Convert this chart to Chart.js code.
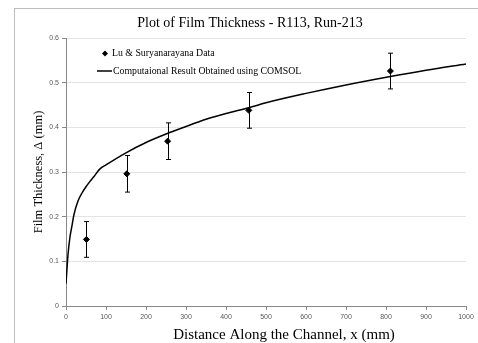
<!DOCTYPE html>
<html>
<head>
<meta charset="utf-8">
<script src="https://cdn.jsdelivr.net/npm/chart.js@4/dist/chart.umd.min.js"></script>
<style>
body { margin: 0; background: #fff; }
</style>
</head>
<body>
<canvas id="chart" width="478" height="343"></canvas>
<script>
// measured data (Lu & Suryanarayana) with error bars
var expX = [51, 152, 254, 457, 811];
var expY = [0.149, 0.296, 0.369, 0.438, 0.526];
var expErr = [0.04, 0.041, 0.041, 0.04, 0.04];

// COMSOL curve
var simX = [0, 5, 10, 15, 20, 30, 40, 50, 60, 70, 85, 100, 150, 200, 250, 300, 350, 400, 457, 500, 600, 700, 811, 900, 1000];
var simY = [0.05, 0.115, 0.155, 0.18, 0.205, 0.235, 0.253, 0.267, 0.279, 0.29, 0.307, 0.316, 0.343, 0.366, 0.385, 0.402, 0.418, 0.431, 0.444, 0.455, 0.476, 0.495, 0.514, 0.528, 0.542];

var xTicks = [0, 100, 200, 300, 400, 500, 600, 700, 800, 900, 1000];
var yTicks = [0, 0.1, 0.2, 0.3, 0.4, 0.5, 0.6];

var serif = '"Liberation Serif", "Times New Roman", serif';
var tickFont = { family: '"Liberation Sans", Arial, sans-serif', size: 7 };

var expPts = expX.map(function (x, i) { return { x: x, y: expY[i] }; });
var simPts = simX.map(function (x, i) { return { x: x, y: simY[i] }; });

var extras = {
  id: 'extras',
  afterDatasetsDraw: function (chart) {
    var ctx = chart.ctx;
    var xs = chart.scales.x, ys = chart.scales.y;
    ctx.save();
    // error bars
    ctx.strokeStyle = '#000';
    ctx.lineWidth = 1;
    for (var i = 0; i < expX.length; i++) {
      var px = Math.round(xs.getPixelForValue(expX[i])) + 0.5;
      var top = ys.getPixelForValue(expY[i] + expErr[i]);
      var bot = ys.getPixelForValue(expY[i] - expErr[i]);
      ctx.beginPath();
      ctx.moveTo(px, top); ctx.lineTo(px, bot);
      ctx.moveTo(px - 2.5, top); ctx.lineTo(px + 2.5, top);
      ctx.moveTo(px - 2.5, bot); ctx.lineTo(px + 2.5, bot);
      ctx.stroke();
    }
    // legend inside plot
    ctx.fillStyle = '#000';
    ctx.beginPath();
    ctx.moveTo(105, 50.5); ctx.lineTo(108, 53.5); ctx.lineTo(105, 56.5); ctx.lineTo(102, 53.5);
    ctx.closePath(); ctx.fill();
    ctx.beginPath();
    ctx.lineWidth = 1.5;
    ctx.moveTo(97, 71); ctx.lineTo(112, 71);
    ctx.stroke();
    ctx.font = '9.8px ' + serif;
    ctx.textBaseline = 'middle';
    ctx.textAlign = 'left';
    ctx.fillText(chart.data.datasets[0].label, 112, 53.5);
    ctx.fillText(chart.data.datasets[1].label, 113, 71);
    // titles
    ctx.textAlign = 'center';
    ctx.font = '14px ' + serif;
    ctx.fillText('Plot of Film Thickness - R113, Run-213', 250, 23);
    ctx.font = '15px ' + serif;
    ctx.fillText('Distance Along the Channel, x (mm)', 284, 335);
    ctx.font = '12.5px ' + serif;
    ctx.translate(38.5, 172);
    ctx.rotate(-Math.PI / 2);
    ctx.fillText('Film Thickness, \u0394 (mm)', 0, 0);
    ctx.restore();
    // outer frame
    ctx.save();
    ctx.strokeStyle = '#bdbdbd';
    ctx.lineWidth = 1;
    ctx.strokeRect(14.5, 8.5, 600, 600);
    ctx.restore();
  }
};

new Chart(document.getElementById('chart'), {
  type: 'scatter',
  data: {
    datasets: [
      {
        label: 'Lu & Suryanarayana Data',
        data: expPts,
        pointStyle: 'rectRot',
        pointRadius: 3,
        backgroundColor: '#000',
        borderColor: '#000',
        showLine: false
      },
      {
        label: 'Computaional Result Obtained using COMSOL',
        data: simPts,
        showLine: true,
        borderColor: '#000',
        borderWidth: 1.5,
        pointRadius: 0,
        cubicInterpolationMode: 'monotone',
        fill: false
      }
    ]
  },
  options: {
    responsive: false,
    animation: false,
    devicePixelRatio: 1,
    layout: { padding: { left: 0, top: 38, right: 12, bottom: 0 } },
    plugins: {
      legend: { display: false },
      title: { display: false },
      tooltip: { enabled: false }
    },
    scales: {
      x: {
        type: 'linear',
        min: 0,
        max: 1000,
        afterBuildTicks: function (s) { s.ticks = xTicks.map(function (v) { return { value: v }; }); },
        afterFit: function (s) { s.height = 37; },
        grid: { drawOnChartArea: false, tickLength: 4, color: '#888' },
        border: { color: '#888', width: 1 },
        ticks: { font: tickFont, color: '#595959', padding: 3, maxRotation: 0,
          callback: function (v) { return String(v); } }
      },
      y: {
        min: 0,
        max: 0.6,
        afterBuildTicks: function (s) { s.ticks = yTicks.map(function (v) { return { value: v }; }); },
        afterFit: function (s) { s.width = 66; },
        grid: { color: '#e3e3e3', tickColor: '#888', tickLength: 4 },
        border: { color: '#888', width: 1 },
        ticks: { font: tickFont, color: '#595959', padding: 3,
          callback: function (v) { return String(v); } }
      }
    }
  },
  plugins: [extras]
});
</script>
</body>
</html>
